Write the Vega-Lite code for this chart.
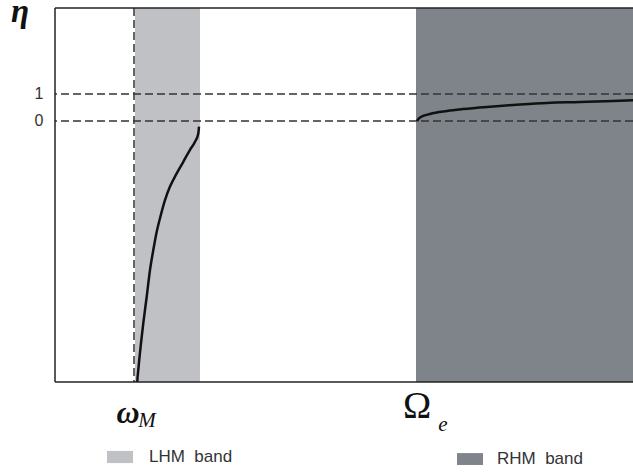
{
  "$schema": "https://vega.github.io/schema/vega-lite/v6.json",
  "width": 578,
  "height": 374,
  "autosize": {"type": "none"},
  "padding": {"left": 55, "top": 8, "right": 0, "bottom": 91},
  "background": "white",
  "config": {
    "view": {"stroke": null},
    "axisX": {"disable": true}
  },
  "datasets": {
    "bands": [
      {"band": "LHM band", "start": 80, "end": 145},
      {"band": "RHM band", "start": 361, "end": 578}
    ],
    "levels": [{"eta": 0}, {"eta": 1}],
    "curve": [
      {"s": "LHM", "w": 82, "eta": -9.96},
      {"s": "LHM", "w": 82.3, "eta": -9.66},
      {"s": "LHM", "w": 83.3, "eta": -9.22},
      {"s": "LHM", "w": 86, "eta": -8.23},
      {"s": "LHM", "w": 88.3, "eta": -7.49},
      {"s": "LHM", "w": 91.7, "eta": -6.51},
      {"s": "LHM", "w": 95, "eta": -5.52},
      {"s": "LHM", "w": 98.3, "eta": -4.78},
      {"s": "LHM", "w": 101.7, "eta": -4.1},
      {"s": "LHM", "w": 105, "eta": -3.6},
      {"s": "LHM", "w": 110, "eta": -2.93},
      {"s": "LHM", "w": 115, "eta": -2.43},
      {"s": "LHM", "w": 121.7, "eta": -1.94},
      {"s": "LHM", "w": 128.3, "eta": -1.51},
      {"s": "LHM", "w": 135, "eta": -1.07},
      {"s": "LHM", "w": 140, "eta": -0.77},
      {"s": "LHM", "w": 143.3, "eta": -0.46},
      {"s": "LHM", "w": 144, "eta": -0.21},
      {"s": "RHM", "w": 362, "eta": 0.0},
      {"s": "RHM", "w": 365, "eta": 0.13},
      {"s": "RHM", "w": 375, "eta": 0.26},
      {"s": "RHM", "w": 392, "eta": 0.37},
      {"s": "RHM", "w": 408, "eta": 0.44},
      {"s": "RHM", "w": 432, "eta": 0.52},
      {"s": "RHM", "w": 458, "eta": 0.59},
      {"s": "RHM", "w": 492, "eta": 0.67},
      {"s": "RHM", "w": 525, "eta": 0.7},
      {"s": "RHM", "w": 558, "eta": 0.74},
      {"s": "RHM", "w": 585, "eta": 0.78}
    ]
  },
  "layer": [
    {
      "data": {"name": "bands"},
      "mark": {"type": "rect"},
      "encoding": {
        "x": {"field": "start", "type": "quantitative", "scale": {"domain": [0, 578], "nice": false, "zero": false}, "title": null},
        "x2": {"field": "end"},
        "color": {"field": "band", "type": "nominal", "scale": {"domain": ["LHM band", "RHM band"], "range": ["#bfc1c4", "#7e848a"]}, "legend": null}
      }
    },
    {
      "data": {"name": "levels"},
      "mark": {"type": "rule", "color": "#333333", "strokeWidth": 1.5, "strokeDash": [8, 4]},
      "encoding": {
        "y": {"field": "eta", "type": "quantitative", "scale": {"domain": [-9.667, 4.185], "nice": false, "zero": false}, "axis": {"values": [0, 1], "title": null, "grid": false, "ticks": false, "domain": false, "labelFontSize": 16, "labelColor": "#333333", "labelPadding": 12, "labelFont": "Liberation Sans"}, "title": null}
      }
    },
    {
      "data": {"values": [{}]},
      "mark": {"type": "rule", "color": "#333333", "strokeWidth": 1.5, "strokeDash": [8, 4]},
      "encoding": {"x": {"datum": 79, "type": "quantitative"}}
    },
    {
      "data": {"name": "curve"},
      "mark": {"type": "line", "color": "#111111", "strokeWidth": 2.5, "interpolate": "monotone", "clip": true},
      "encoding": {
        "x": {"field": "w", "type": "quantitative", "title": null},
        "y": {"field": "eta", "type": "quantitative", "title": null},
        "detail": {"field": "s", "type": "nominal"}
      }
    },
    {
      "data": {"values": [{}]},
      "mark": {"type": "rule", "color": "#222222", "strokeWidth": 1.5},
      "encoding": {"x": {"datum": 0, "type": "quantitative"}}
    },
    {
      "data": {"values": [{}]},
      "mark": {"type": "rule", "color": "#222222", "strokeWidth": 1.5},
      "encoding": {"y": {"datum": -9.667, "type": "quantitative"}}
    },
    {
      "data": {"values": [{}]},
      "mark": {"type": "rule", "color": "#222222", "strokeWidth": 1.5},
      "encoding": {"y": {"datum": 4.185, "type": "quantitative"}}
    },
    {
      "data": {"values": [{}]},
      "mark": {"type": "text", "text": "η", "font": "Liberation Serif", "fontSize": 33, "fontWeight": "bold", "fontStyle": "italic", "color": "#111111", "align": "center", "baseline": "alphabetic"},
      "encoding": {"x": {"datum": -35, "type": "quantitative"}, "y": {"datum": 3.65, "type": "quantitative"}}
    },
    {
      "data": {"values": [{}]},
      "mark": {"type": "text", "text": "ω", "font": "Liberation Serif", "fontSize": 32, "fontWeight": "bold", "fontStyle": "italic", "color": "#111111", "align": "center", "baseline": "middle"},
      "encoding": {"x": {"datum": 73, "type": "quantitative"}, "y": {"datum": -10.8, "type": "quantitative"}}
    },
    {
      "data": {"values": [{}]},
      "mark": {"type": "text", "text": "M", "font": "Liberation Serif", "fontSize": 21, "fontStyle": "italic", "color": "#111111", "align": "center", "baseline": "middle"},
      "encoding": {"x": {"datum": 92, "type": "quantitative"}, "y": {"datum": -11.1, "type": "quantitative"}}
    },
    {
      "data": {"values": [{}]},
      "mark": {"type": "text", "text": "Ω", "font": "Liberation Serif", "fontSize": 38, "color": "#111111", "align": "center", "baseline": "middle"},
      "encoding": {"x": {"datum": 362, "type": "quantitative"}, "y": {"datum": -10.59, "type": "quantitative"}}
    },
    {
      "data": {"values": [{}]},
      "mark": {"type": "text", "text": "e", "font": "Liberation Serif", "fontSize": 21, "fontStyle": "italic", "color": "#111111", "align": "center", "baseline": "middle"},
      "encoding": {"x": {"datum": 388, "type": "quantitative"}, "y": {"datum": -11.26, "type": "quantitative"}}
    },
    {
      "data": {"values": [{}]},
      "mark": {"type": "rect", "color": "#bfc1c4"},
      "encoding": {"x": {"datum": 52, "type": "quantitative"}, "x2": {"datum": 78}, "y": {"datum": -12.22, "type": "quantitative"}, "y2": {"datum": -12.67}}
    },
    {
      "data": {"values": [{}]},
      "mark": {"type": "rect", "color": "#7e848a"},
      "encoding": {"x": {"datum": 402, "type": "quantitative"}, "x2": {"datum": 428}, "y": {"datum": -12.3, "type": "quantitative"}, "y2": {"datum": -12.74}}
    },
    {
      "data": {"values": [{}]},
      "mark": {"type": "text", "text": "LHM\u00a0\u00a0band", "font": "Liberation Sans", "fontSize": 17, "color": "#333333", "align": "left", "baseline": "middle"},
      "encoding": {"x": {"datum": 94, "type": "quantitative"}, "y": {"datum": -12.44, "type": "quantitative"}}
    },
    {
      "data": {"values": [{}]},
      "mark": {"type": "text", "text": "RHM\u00a0\u00a0band", "font": "Liberation Sans", "fontSize": 17, "color": "#333333", "align": "left", "baseline": "middle"},
      "encoding": {"x": {"datum": 442, "type": "quantitative"}, "y": {"datum": -12.52, "type": "quantitative"}}
    }
  ]
}
